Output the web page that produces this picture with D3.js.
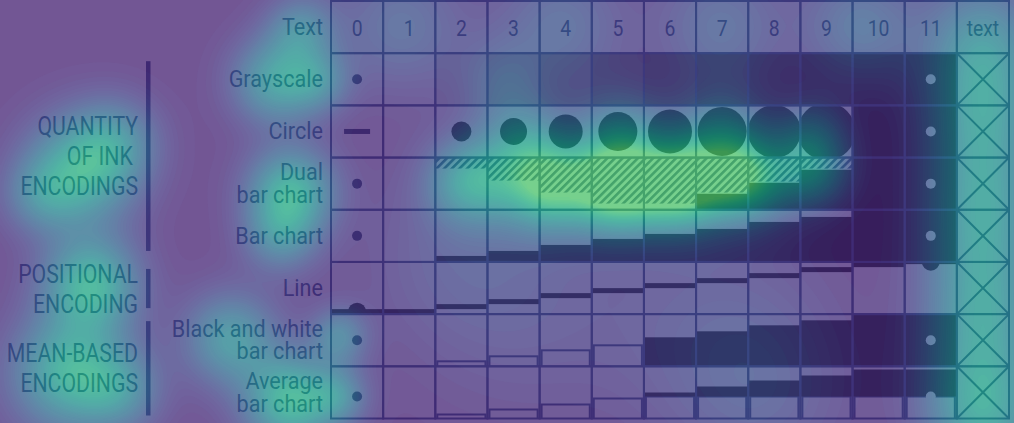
<!DOCTYPE html>
<html>
<head>
<meta charset="utf-8">
<script src="https://cdn.jsdelivr.net/npm/d3@7"></script>
<style>
  html, body { margin: 0; padding: 0; background: #fff; }
  svg { display: block; font-family: Roboto, "Noto Sans", sans-serif; }
</style>
</head>
<body>
<svg id="chart" width="1014" height="423"></svg>
<script>
// table layout data
const columns = ["0", "1", "2", "3", "4", "5", "6", "7", "8", "9", "10", "11", "text"];
const rows = ["Text", "Grayscale", "Circle", "Dual bar chart", "Bar chart", "Line", "Black and white bar chart", "Average bar chart"];
const rowLabels = [["Text"], ["Grayscale"], ["Circle"], ["Dual", "bar chart"], ["Bar chart"], ["Line"], ["Black and white", "bar chart"], ["Average", "bar chart"]];
const groupNames = [["QUANTITY", "OF INK\u00a0", "ENCODINGS"], ["POSITIONAL", "ENCODING"], ["MEAN-BASED", "ENCODINGS"]];
const groupRows = [["Grayscale", "Bar chart"], ["Line", "Line"], ["Black and white bar chart", "Average bar chart"]];

// one value per stimulus column 0..11 (pixels)
const grayLevels = [255, 255, 218, 175, 135, 100, 72, 50, 34, 20, 8, 0];
const circleR = [0, 0, 10, 13.5, 17, 19.5, 22, 24.5, 26.5, 29, 40, 40];
const dualHatch = [0, 0, 11, 23, 35, 46, 46, 35, 24, 11, 0, 0];
const dualSolid = [0, 0, 0, 0, 0, 0, 0, 16, 27, 40, 52, 52];
const barH = [0, 0, 6, 11, 17, 23, 28, 33, 40, 45, 52, 52];
const lineLevel = [0, 0, 5, 10, 16, 21, 26, 31, 36, 42, 47, 50];
const bwWhite = [0, 0, 5, 10, 16, 21, 0, 0, 0, 0, 0, 0];
const bwBlack = [0, 0, 0, 0, 0, 0, 29, 35, 41, 46, 52, 52];
const avgWhite = [0, 0, 4, 9, 14, 20, 22, 22, 22, 22, 22, 22];
const avgBlack = [0, 0, 0, 0, 0, 0, 4, 10, 16, 21, 27, 27];
const avgMean = 22;
// markers in column 0 and 11, rows Grayscale..Average
const zeroMarks = ["dot", "dash", "dot", "dot", "half", "dot", "mean"];
const maxMarks = ["dot", "dot", "dot", "dot", "half", "dot", "mean"];

// gaze heat spots: x, y, spread, weight
const hotX = [470, 545, 615, 680, 745, 810, 520, 620, 720, 810, 982, 982, 982, 982, 982, 982, 982, 982, 982, 400, 560, 720, 860, 80, 115, 40, 275, 318, 300, 290, 280, 90, 230, 70, 120, 290, 338, 338, 520, 720, 760, 450, 500];
const hotY = [180, 183, 186, 184, 178, 170, 138, 135, 135, 135, 30, 80, 130, 185, 235, 290, 340, 395, 430, 25, 25, 25, 25, 170, 140, 195, 80, 80, 28, 190, 235, 283, 338, 372, 390, 400, 395, 335, 300, 330, 400, 250, 80];
const hotS = [30, 32, 32, 32, 30, 26, 30, 32, 32, 26, 40, 40, 40, 40, 40, 40, 40, 40, 40, 45, 45, 45, 40, 38, 30, 26, 30, 22, 24, 30, 26, 33, 32, 40, 28, 32, 20, 20, 80, 80, 60, 60, 30];
const hotW = [0.6, 0.85, 1.0, 1.0, 0.8, 0.5, 0.35, 0.4, 0.4, 0.3, 0.36, 0.36, 0.36, 0.36, 0.36, 0.36, 0.36, 0.36, 0.36, 0.25, 0.25, 0.25, 0.3, 0.7, 0.35, 0.3, 0.6, 0.35, 0.4, 0.72, 0.4, 0.75, 0.55, 0.75, 0.35, 0.8, 0.35, 0.4, 0.12, 0.14, 0.12, 0.1, 0.2];

const width = 1014, height = 423;
const ink = "#24396c";

const svg = d3.select("#chart");
svg.append("rect").attr("width", width).attr("height", height).attr("fill", "#fff");

const x = d3.scaleBand().domain(columns).range([331, 1009]);
const y = d3.scaleBand().domain(rows).range([1, 418.5]);
const cw = x.bandwidth(), ch = y.bandwidth();

const defs = svg.append("defs");
const hatch = defs.append("pattern").attr("id", "hatch")
  .attr("patternUnits", "userSpaceOnUse").attr("width", 5.4).attr("height", 10)
  .attr("patternTransform", "rotate(45)");
hatch.append("line").attr("x1", 1.3).attr("x2", 1.3).attr("y1", 0).attr("y2", 10)
  .attr("stroke", ink).attr("stroke-width", 2.6);

const valueCols = columns.slice(0, 12);
const dataRows = rows.slice(1);

// clip per cell
dataRows.forEach((r, ri) => valueCols.forEach((c, ci) => {
  defs.append("clipPath").attr("id", `clip-${ri}-${ci}`)
    .append("rect").attr("x", x(c)).attr("y", y(r)).attr("width", cw).attr("height", ch);
}));

const marks = svg.append("g");
function cellG(row, ci) {
  return marks.append("g").attr("clip-path", `url(#clip-${dataRows.indexOf(row)}-${ci})`);
}

valueCols.forEach((c, ci) => {
  const x0 = x(c);
  // grayscale
  let g = cellG("Grayscale", ci);
  g.append("rect").attr("x", x0).attr("y", y("Grayscale")).attr("width", cw).attr("height", ch)
    .attr("fill", d3.rgb(grayLevels[ci], grayLevels[ci], grayLevels[ci]));

  // circle
  g = cellG("Circle", ci);
  if (circleR[ci] > 0) {
    g.append("circle").attr("cx", x0 + cw / 2).attr("cy", y("Circle") + ch / 2)
      .attr("r", circleR[ci]).attr("fill", "#000");
  }

  // dual bar chart
  const yd = y("Dual bar chart");
  g = cellG("Dual bar chart", ci);
  if (dualHatch[ci] > 0) {
    g.append("rect").attr("x", x0).attr("y", yd).attr("width", cw).attr("height", dualHatch[ci])
      .attr("fill", "url(#hatch)");
  }
  if (dualSolid[ci] > 0) {
    g.append("rect").attr("x", x0).attr("y", yd + ch - dualSolid[ci]).attr("width", cw)
      .attr("height", dualSolid[ci]).attr("fill", "#000");
  }

  // bar chart
  const yb = y("Bar chart");
  g = cellG("Bar chart", ci);
  if (barH[ci] > 0) {
    g.append("rect").attr("x", x0).attr("y", yb + ch - barH[ci]).attr("width", cw)
      .attr("height", barH[ci]).attr("fill", "#000");
  }

  // line
  const yl = y("Line");
  g = cellG("Line", ci);
  g.append("rect").attr("x", x0).attr("y", yl + ch - 5 - lineLevel[ci]).attr("width", cw)
    .attr("height", 5).attr("fill", "#000");

  // black and white bar chart
  const yw = y("Black and white bar chart");
  g = cellG("Black and white bar chart", ci);
  if (bwWhite[ci] > 0) {
    g.append("rect").attr("x", x0 + 2).attr("y", yw + ch - bwWhite[ci]).attr("width", cw - 4)
      .attr("height", bwWhite[ci] + 4).attr("fill", "#fff").attr("stroke", ink).attr("stroke-width", 2);
  }
  if (bwBlack[ci] > 0) {
    g.append("rect").attr("x", x0).attr("y", yw + ch - bwBlack[ci]).attr("width", cw)
      .attr("height", bwBlack[ci]).attr("fill", "#000");
  }

  // average bar chart
  const ya = y("Average bar chart");
  g = cellG("Average bar chart", ci);
  if (avgWhite[ci] > 0) {
    g.append("rect").attr("x", x0 + 2).attr("y", ya + ch - avgWhite[ci]).attr("width", cw - 4)
      .attr("height", avgWhite[ci] + 4).attr("fill", "#fff").attr("stroke", ink).attr("stroke-width", 2);
  }
  if (avgBlack[ci] > 0) {
    g.append("rect").attr("x", x0).attr("y", ya + ch - avgWhite[ci] - avgBlack[ci]).attr("width", cw)
      .attr("height", avgBlack[ci]).attr("fill", "#000");
  }
});

// end markers in columns 0 and 11
[[zeroMarks, 0, "#1c2850"], [maxMarks, 11, "#ffffff"]].forEach(([list, ci, fill]) => {
  const cx = x(valueCols[ci]) + cw / 2;
  list.forEach((type, ri) => {
    const row = dataRows[ri];
    const g = cellG(row, ci);
    const cy = y(row) + ch / 2;
    if (type === "dot") {
      g.append("circle").attr("cx", cx).attr("cy", cy).attr("r", 5).attr("fill", fill);
    } else if (type === "dash") {
      g.append("rect").attr("x", cx - 13).attr("y", cy - 2.5).attr("width", 26).attr("height", 5).attr("fill", "#1c2850");
    } else if (type === "half") {
      const ly = y(row) + ch - 2.5 - lineLevel[ci];
      g.append("circle").attr("cx", cx).attr("cy", ly).attr("r", 9).attr("fill", "#000");
    } else if (type === "mean") {
      g.append("circle").attr("cx", cx).attr("cy", y(row) + ch - avgMean).attr("r", 5).attr("fill", fill);
    }
  });
});

// grid
const grid = svg.append("g").attr("fill", "none").attr("stroke", ink).attr("stroke-width", 2);
rows.forEach(r => columns.forEach(c => {
  grid.append("rect").attr("x", x(c)).attr("y", y(r)).attr("width", cw).attr("height", ch);
}));
// crossed text column
dataRows.forEach(r => {
  const x0 = x("text"), y0 = y(r);
  grid.append("path").attr("d", `M${x0},${y0}L${x0 + cw},${y0 + ch}M${x0 + cw},${y0}L${x0},${y0 + ch}`);
});

// condensed multi-line text helper (one text element, lines as tspans)
function label(parent, lines, px, py, size, sx, anchor, lh) {
  const t = parent.append("g").attr("transform", `translate(${px},${py}) scale(${sx},1)`)
    .append("text").attr("font-size", size).attr("fill", ink).attr("text-anchor", anchor);
  lines.forEach((s, j) => t.append("tspan").attr("x", 0).attr("y", j * lh).text(s));
}

// header labels
const hl = svg.append("g");
columns.forEach(c => label(hl, [c], x(c) + cw / 2, 36, 22, 0.88, "middle", 0));

// row labels
const rl = svg.append("g");
rows.forEach((r, i) => {
  const lines = rowLabels[i];
  const mid = y(r) + ch / 2;
  label(rl, lines, 323, mid + 8 - (lines.length - 1) / 2 * 22.5, 23.5, 0.92, "end", 22.5);
});

// group labels and bars
const groupInset = [[8, 11], [7, 6], [7, 3]];
const gl = svg.append("g");
groupNames.forEach((names, i) => {
  const top = y(groupRows[i][0]) + groupInset[i][0];
  const bottom = y(groupRows[i][1]) + ch - groupInset[i][1];
  gl.append("rect").attr("x", 146).attr("y", top).attr("width", 4.5).attr("height", bottom - top).attr("fill", ink);
  const mid = (top + bottom) / 2;
  label(gl, names, 138, mid + 9 - (names.length - 1) / 2 * 30, 25, 0.85, "end", 30);
});

// heat overlay
const cell = 2;
const gw = Math.ceil(width / cell) + 1, gh = Math.ceil(height / cell) + 1;
const values = new Float64Array(gw * gh);
for (let j = 0; j < gh; j++) {
  for (let i = 0; i < gw; i++) {
    const px = i * cell, py = j * cell;
    let s = 0;
    for (let k = 0; k < hotX.length; k++) {
      const dx = px - hotX[k], dy = py - hotY[k];
      s += hotW[k] * Math.exp(-(dx * dx + dy * dy) / (2 * hotS[k] * hotS[k]));
    }
    values[j * gw + i] = Math.min(1, s);
  }
}
const heatColor = d3.scaleSequential(t => d3.interpolateViridis(0.1 + 0.62 * t)).domain([0, 1]);
const contours = d3.contours().size([gw, gh]).thresholds(d3.range(0.02, 1.001, 0.02))(values);
const heat = svg.append("g").attr("opacity", 0.77).attr("pointer-events", "none");
heat.append("rect").attr("width", width).attr("height", height).attr("fill", heatColor(0));
heat.selectAll("path").data(contours).join("path")
  .attr("d", d3.geoPath(d3.geoIdentity().scale(cell)))
  .attr("fill", d => heatColor(d.value));
</script>
</body>
</html>
